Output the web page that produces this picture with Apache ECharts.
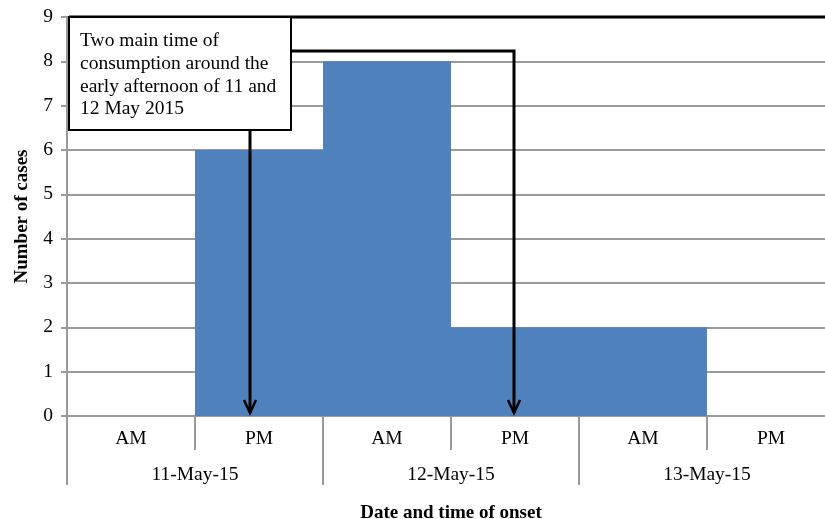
<!DOCTYPE html>
<html>
<head>
<meta charset="utf-8">
<script src="https://cdn.jsdelivr.net/npm/echarts@6/dist/echarts.min.js"></script>
<style>
  html, body { margin: 0; padding: 0; background: #fff; }
  #main { width: 825px; height: 519px; }
</style>
</head>
<body>
<div id="main"></div>
<script>
// Epidemic curve: cases by half-day of onset
const halfDays = ['AM', 'PM', 'AM', 'PM', 'AM', 'PM'];
const dates = ['11-May-15', '12-May-15', '13-May-15'];
const cases = [0, 6, 8, 2, 2, 0];
const yTicks = [0, 1, 2, 3, 4, 5, 6, 7, 8, 9];
const noteLines = ['Two main time of', 'consumption around the', 'early afternoon of 11 and', '12 May 2015'];
// half-day slots pointed at by the note's arrows
const arrowSlots = [1, 3];

const FONT = '"Liberation Serif", "Times New Roman", serif';
const FS = 19.5;
const GRID_GREY = '#9a9a9a';

const chart = echarts.init(document.getElementById('main'));

const option = {
  animation: false,
  backgroundColor: '#ffffff',
  grid: { left: 67, top: 17, width: 768, height: 399, containLabel: false, outerBoundsMode: 'none' },
  xAxis: [
    {
      type: 'category',
      data: halfDays,
      position: 'bottom',
      axisLine: { show: true, lineStyle: { color: GRID_GREY, width: 2 } },
      axisTick: { show: true, length: 34, lineStyle: { color: GRID_GREY, width: 2 } },
      axisLabel: { color: '#000', fontFamily: FONT, fontSize: FS, margin: 13 }
    },
    {
      type: 'category',
      data: dates,
      position: 'bottom',
      offset: 34,
      axisLine: { show: false },
      axisTick: { show: true, length: 35, lineStyle: { color: GRID_GREY, width: 2 } },
      axisLabel: { color: '#000', fontFamily: FONT, fontSize: FS, margin: 15 },
      name: 'Date and time of onset',
      nameLocation: 'middle',
      nameGap: 54,
      nameTextStyle: { color: '#000', fontFamily: FONT, fontSize: FS - 0.5, fontWeight: 'bold' }
    }
  ],
  yAxis: {
    type: 'value',
    min: yTicks[0],
    max: yTicks[yTicks.length - 1],
    interval: 1,
    axisLine: { show: true, lineStyle: { color: GRID_GREY, width: 2 } },
    axisTick: { show: true, length: 6, lineStyle: { color: GRID_GREY, width: 2 } },
    axisLabel: { color: '#000', fontFamily: FONT, fontSize: FS, margin: 14 },
    splitLine: { show: true, lineStyle: { color: GRID_GREY, width: 2 } },
    name: 'Number of cases',
    nameLocation: 'middle',
    nameGap: 35,
    nameTextStyle: { color: '#000', fontFamily: FONT, fontSize: FS - 0.5, fontWeight: 'bold' }
  },
  series: [
    {
      type: 'bar',
      xAxisIndex: 0,
      data: cases,
      barCategoryGap: '0%',
      itemStyle: { color: '#4f81bd', borderWidth: 0 },
      z: 2
    }
  ]
};

chart.setOption(option);

// Annotation box with its callout arrows
const box = { x: 69, y: 17, w: 222, h: 113 };
const zero = chart.convertToPixel({ xAxisIndex: 0, yAxisIndex: 0 }, [arrowSlots[1], 0]);
const tipY = zero[1] - 3;
const arrow1X = box.x + box.w - 41;
const arrow2X = zero[0] - 1;
const bracketY = 51;
const BLACK = '#000';

function arrowHead(x, y) {
  return {
    type: 'polyline',
    shape: { points: [[x - 6, y - 13], [x, y], [x + 6, y - 13]] },
    style: { stroke: BLACK, lineWidth: 2.5, fill: null },
    z: 100
  };
}

const graphics = [
  // long rule along the top of the plot
  { type: 'line', shape: { x1: box.x, y1: box.y, x2: 825, y2: box.y }, style: { stroke: BLACK, lineWidth: 3 }, z: 99 },
  // bracket from the box to the second arrow
  { type: 'polyline', shape: { points: [[box.x + box.w, bracketY], [arrow2X, bracketY], [arrow2X, tipY]] }, style: { stroke: BLACK, lineWidth: 3, fill: null }, z: 99 },
  // first arrow straight down from the box
  { type: 'line', shape: { x1: arrow1X, y1: box.y + box.h, x2: arrow1X, y2: tipY }, style: { stroke: BLACK, lineWidth: 3 }, z: 99 },
  arrowHead(arrow1X, tipY),
  arrowHead(arrow2X, tipY),
  // box
  { type: 'rect', shape: { x: box.x, y: box.y, width: box.w, height: box.h }, style: { fill: '#fff', stroke: BLACK, lineWidth: 2 }, z: 101 }
];

noteLines.forEach(function (line, i) {
  graphics.push({
    type: 'text',
    x: box.x + 11,
    y: box.y + 24 + i * 22.7,
    style: { text: line, fill: BLACK, font: FS + 'px ' + FONT, textVerticalAlign: 'middle', verticalAlign: 'middle' },
    z: 102
  });
});

chart.setOption({ graphic: graphics });
</script>
</body>
</html>
